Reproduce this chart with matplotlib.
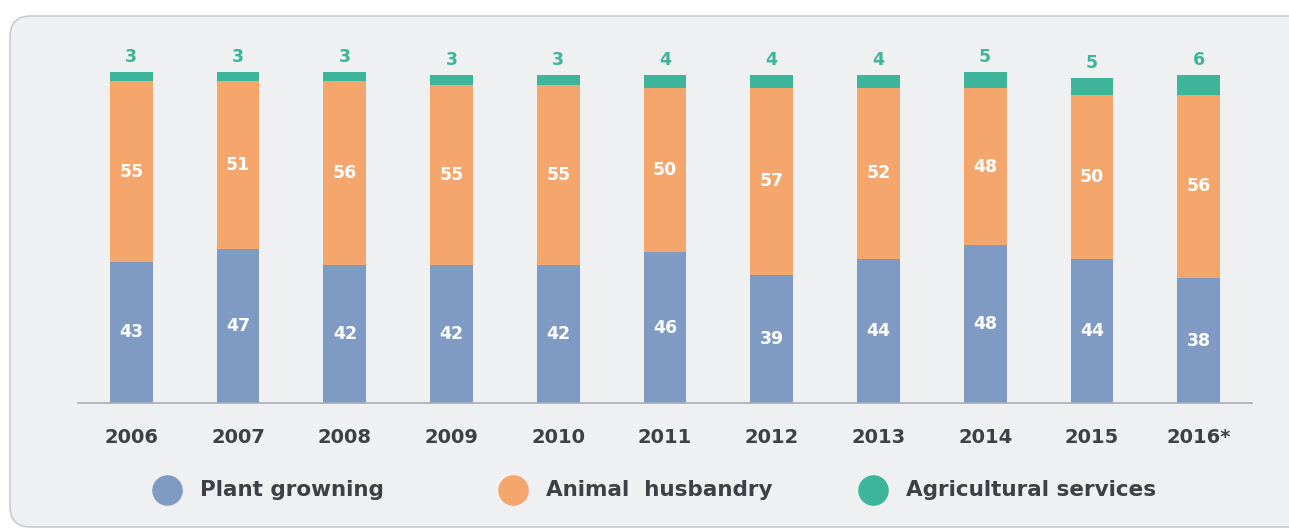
import matplotlib.pyplot as plt
from matplotlib.patches import FancyBboxPatch
from matplotlib.lines import Line2D
import numpy as np

anos = ['2006', '2007', '2008', '2009', '2010', '2011', '2012', '2013', '2014', '2015', '2016*']

# shares by sector, %
plant = [43, 47, 42, 42, 42, 46, 39, 44, 48, 44, 38]
animal = [55, 51, 56, 55, 55, 50, 57, 52, 48, 50, 56]
services = [3, 3, 3, 3, 3, 4, 4, 4, 5, 5, 6]

series_names = ['Plant growning', 'Animal  husbandry', 'Agricultural services']

c_blue = '#7f9bc4'
c_orange = '#f5a66d'
c_teal = '#3db59a'
c_text = '#3d4045'

plt.rcParams['font.family'] = ['DejaVu Sans']

W, H = 1289, 529
fig = plt.figure(figsize=(W / 100, H / 100), dpi=100)
fig.patch.set_facecolor('white')

# rounded grey panel behind the chart
panel = FancyBboxPatch((10 / W, 2 / H), 1.05, (H - 16 - 2) / H,
                       boxstyle='round,pad=0,rounding_size=0.016',
                       transform=fig.transFigure, facecolor='#eff0f2',
                       edgecolor='#c8ccd1', linewidth=1.2, mutation_aspect=W / H,
                       zorder=-10)
fig.add_artist(panel)

ax = fig.add_axes([78 / W, 126 / H, (1252 - 78) / W, 361 / H])
ax.set_facecolor('none')
ax.set_zorder(1)

x = np.arange(len(anos))
bottom2 = np.array(plant) + np.array(animal)
ax.bar(x, plant, width=0.4, color=c_blue)
ax.bar(x, animal, width=0.4, bottom=plant, color=c_orange)
ax.bar(x, services, width=0.4, bottom=bottom2, color=c_teal)

for i in range(len(anos)):
    ax.text(x[i], plant[i] / 2, str(plant[i]), ha='center', va='center',
            color='white', fontsize=12.5, fontweight='bold')
    ax.text(x[i], plant[i] + animal[i] / 2, str(animal[i]), ha='center', va='center',
            color='white', fontsize=12.5, fontweight='bold')
    ax.text(x[i], bottom2[i] + services[i] + 4.5, str(services[i]), ha='center', va='center',
            color=c_teal, fontsize=12.5, fontweight='bold')

ax.set_xlim(-0.5, len(anos) - 0.5)
ax.set_ylim(0, 110)
for s in ['top', 'right', 'left']:
    ax.spines[s].set_visible(False)
ax.spines['bottom'].set_color('#a9adb3')
ax.spines['bottom'].set_linewidth(1.2)
ax.set_yticks([])
ax.set_xticks(x)
ax.set_xticklabels(anos, fontsize=14, fontweight='bold', color=c_text)
ax.tick_params(axis='x', length=0, pad=18)

# legend drawn by hand
leg_x = [167, 513, 873]
for lx, name, col in zip(leg_x, series_names, [c_blue, c_orange, c_teal]):
    fig.add_artist(Line2D([lx / W], [(H - 490) / H], marker='o', markersize=21,
                          color=col, linestyle='none', transform=fig.transFigure))
    fig.text((lx + 33) / W, (H - 490) / H, name, ha='left', va='center',
             fontsize=15.5, fontweight='bold', color=c_text)

fig.savefig('out.png', dpi=100)
